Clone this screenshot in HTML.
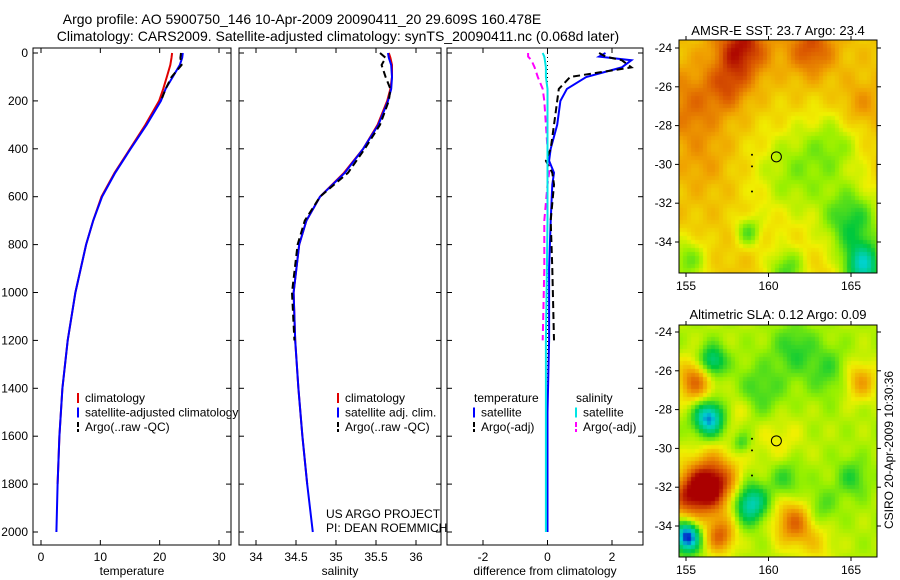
<!DOCTYPE html>
<html><head><meta charset="utf-8">
<style>
html,body{margin:0;padding:0;background:#fff;}
body{width:900px;height:580px;overflow:hidden;position:relative;font-family:"Liberation Sans",sans-serif;}
svg text{font-family:"Liberation Sans",sans-serif;}
canvas{position:absolute;}
</style></head>
<body>
<canvas id="map1" width="198" height="233" style="left:679px;top:40px"></canvas>
<canvas id="map2" width="198" height="232" style="left:679px;top:325px"></canvas>
<svg id="fig" width="900" height="580" style="position:absolute;left:0;top:0">
<text x="302" y="24" font-size="14" text-anchor="middle">Argo profile: AO 5900750_146 10-Apr-2009 20090411_20 29.609S 160.478E</text>
<text x="338" y="41" font-size="14" text-anchor="middle">Climatology: CARS2009. Satellite-adjusted climatology: synTS_20090411.nc (0.068d later)</text>
<text x="778" y="35" font-size="13" text-anchor="middle">AMSR-E SST: 23.7 Argo: 23.4</text>
<text x="778" y="319" font-size="13" text-anchor="middle">Altimetric SLA: 0.12 Argo: 0.09</text>
<text transform="translate(893,450) rotate(-90)" font-size="12" text-anchor="middle">CSIRO 20-Apr-2009 10:30:36</text>
<text x="326" y="518" font-size="12">US ARGO PROJECT</text>
<text x="326" y="532" font-size="12">PI: DEAN ROEMMICH</text>
</svg>
<script>
// ---- data ----
const depthTicks=[0,200,400,600,800,1000,1200,1400,1600,1800,2000];
const profDepth=[0,20,50,100,150,200,300,400,500,600,700,800,1000,1200,1400,1600,1800,2000];
const tempClim=[22.1,22.0,21.8,21.2,20.6,19.9,17.6,15.0,12.4,10.2,8.8,7.6,5.8,4.5,3.6,3.1,2.8,2.6];
const tempSat=[23.9,23.8,23.4,22.2,21.0,20.2,17.8,15.1,12.5,10.3,8.8,7.6,5.8,4.5,3.6,3.1,2.8,2.6];
const tempArgo=[23.6,23.5,23.7,22.0,21.0,20.2,17.7,15.0,12.6,10.3,8.9,7.7,5.9,4.6,3.7,3.1,2.8,2.6];
const salClim=[35.66,35.68,35.70,35.70,35.68,35.64,35.52,35.34,35.10,34.80,34.63,34.54,34.47,34.49,34.53,34.58,34.64,34.70];
const salSat=[35.65,35.66,35.69,35.70,35.69,35.65,35.53,35.34,35.11,34.80,34.63,34.54,34.47,34.49,34.53,34.58,34.64,34.71];
const salArgo=[35.55,35.62,35.57,35.62,35.68,35.66,35.55,35.36,35.15,34.80,34.61,34.52,34.45,34.48,34.52,34.58,34.64,34.70];
const diffDepth=[0,15,30,60,100,150,200,300,400,450,500,550,700,900,1200,1500,2000];
const dTempSat=[1.8,1.6,2.6,2.3,1.2,0.6,0.4,0.3,0.1,0.05,0.2,0.15,0.1,0.05,0.05,0.0,0.0];
const dTempArgo=[1.6,1.8,2.3,2.6,0.7,0.35,0.3,0.2,0.1,-0.05,0.15,0.2,0.1,0.15,0.2,0.05,0.0];
const dSalSat=[-0.15,-0.1,-0.08,-0.05,-0.05,0.0,0.0,0.0,0.0,0.0,0.0,0.0,0.0,-0.02,-0.05,-0.05,-0.05];
const dSalArgo=[-0.6,-0.6,-0.5,-0.4,-0.3,-0.15,-0.1,-0.05,0.0,0.05,0.05,0.0,-0.1,-0.1,-0.15,-0.05,0.0];
const tempTicks=[0,10,20,30];
const salTicks=[34,34.5,35,35.5,36];
const salTickLabels=["34","34.5","35","35.5","36"];
const diffTicks=[-2,0,2];
const lonTicks=[155,160,165];
const latTicks=[-24,-26,-28,-30,-32,-34];

const NS="http://www.w3.org/2000/svg";
const svg=document.getElementById('fig');
function mk(tag,attrs,parent){const e=document.createElementNS(NS,tag);for(const k in attrs)e.setAttribute(k,attrs[k]);(parent||svg).appendChild(e);return e;}
const Y0=53,Y1=532;
function yD(d){return Y0+(d/2000)*(Y1-Y0);}
function lin(d0,d1,p0,p1){return v=>p0+(v-d0)/(d1-d0)*(p1-p0);}

const panels=[
 {name:'temperature',x0:33,x1:231,sx:lin(0,30,41,219),ticks:tempTicks,labels:tempTicks.map(String),ylab:true},
 {name:'salinity',x0:239,x1:441,sx:lin(34,36,256,416),ticks:salTicks,labels:salTickLabels},
 {name:'difference from climatology',x0:447,x1:643,sx:lin(-2,2,483,612),ticks:diffTicks,labels:diffTicks.map(String)}
];
function line(sx,xs,ds,color,dash,nm){
  const pts=xs.map((v,i)=>sx(v).toFixed(1)+','+yD(ds[i]).toFixed(1)).join(' ');
  const p=mk('polyline',{points:pts,fill:'none',stroke:color,'stroke-width':2,'stroke-dasharray':dash||'none'});
  
  
}
panels.forEach((p,pi)=>{
  const g=mk('g',{});
  
  
  mk('rect',{x:p.x0,y:48,width:p.x1-p.x0,height:497,fill:'none',stroke:'#000','stroke-width':1},g);
  depthTicks.forEach(d=>{
    const y=yD(d);
    mk('line',{x1:p.x0,x2:p.x0+5,y1:y,y2:y,stroke:'#000'},g);
    mk('line',{x1:p.x1-5,x2:p.x1,y1:y,y2:y,stroke:'#000'},g);
    if(p.ylab){const t=mk('text',{x:28,y:y+4,'font-size':12,'text-anchor':'end'},g);t.textContent=d;
      }
  });
  p.ticks.forEach((v,i)=>{
    const x=p.sx(v);
    mk('line',{x1:x,x2:x,y1:545,y2:540,stroke:'#000'},g);
    mk('line',{x1:x,x2:x,y1:48,y2:53,stroke:'#000'},g);
    const t=mk('text',{x:x,y:561,'font-size':12,'text-anchor':'middle'},g);t.textContent=p.labels[i];
    
  });
  const xt=mk('text',{x:(p.x0+p.x1)/2,y:575,'font-size':12,'text-anchor':'middle'},g);xt.textContent=p.name;
  
});
// panel 1
let s=panels[0].sx;
line(s,tempClim.slice(0,17),profDepth.slice(0,17),'#e00000',null,'temp-climatology-line');
line(s,tempSat,profDepth,'#0000ff',null,'temp-satellite-line');
line(s,tempArgo.slice(0,6),profDepth.slice(0,6),'#000',"7,4",'temp-argo-line');
// panel 2
s=panels[1].sx;
line(s,salClim.slice(0,17),profDepth.slice(0,17),'#e00000',null,'sal-climatology-line');
line(s,salSat,profDepth,'#0000ff',null,'sal-satellite-line');
line(s,salArgo.slice(0,14),profDepth.slice(0,14),'#000',"7,4",'sal-argo-line');
// panel 3
s=panels[2].sx;
mk('line',{x1:s(0),x2:s(0),y1:53,y2:532,stroke:'#000','stroke-dasharray':'1,3'});
line(s,dSalArgo.slice(0,15),diffDepth.slice(0,15),'#ff00ff',"7,4",'sal-argo-diff-line');
line(s,dTempSat,diffDepth,'#0000ff',null,'temp-satellite-diff-line');
line(s,dTempArgo.slice(0,15),diffDepth.slice(0,15),'#000',"7,4",'temp-argo-diff-line');
line(s,dSalSat,diffDepth,'#00e5e5',null,'sal-satellite-diff-line');

function legend(x,y,items){
  items.forEach((it,i)=>{
    const yy=y+i*14.5;
    if(it[1]){mk('line',{x1:x,x2:x,y1:yy-9,y2:yy+1,stroke:it[1],'stroke-width':2,'stroke-dasharray':it[2]?'5,2':'none'});}
    const t=mk('text',{x:x+(it[1]?7:0),y:yy,'font-size':12});t.textContent=it[0];
    
  });
}
legend(78,402,[['climatology','#e00000'],['satellite-adjusted climatology','#0000ff'],['Argo(..raw -QC)','#000',1]]);
legend(338,402,[['climatology','#e00000'],['satellite adj. clim.','#0000ff'],['Argo(..raw -QC)','#000',1]]);
legend(474,402,[['temperature',null],['satellite','#0000ff'],['Argo(-adj)','#000',1]]);
legend(576,402,[['salinity',null],['satellite','#00e5e5'],['Argo(-adj)','#ff00ff',1]]);

// ---- maps ----
const sstBlobs=[[158.3,-24,0.3,1.6],[157.5,-26,0.15,1.2],[162.5,-24,0.22,1.4],[155.3,-27,0.15,2.0],[156,-30,0.06,1.5],[161.5,-30.5,-0.18,2.6],[164,-29,-0.14,1.8],[165,-33,-0.3,1.8],[165.7,-35.3,-0.45,1.2],[158.7,-33.5,-0.22,0.8],[155,-35,-0.22,1.2],[161,-35.5,-0.25,1.2],[165.5,-27,0.1,1.2]];
const slaBlobs=[[155.5,-26.5,0.32,1.1],[156.5,-25.5,-0.32,0.8],[156.3,-28.4,-0.45,0.9],[156.5,-31.8,0.5,1.5],[155,-32.5,0.3,1.3],[158.8,-32.8,-0.38,1.0],[155,-34.5,-0.55,0.8],[157,-34.5,0.32,0.9],[161.5,-33.8,0.32,1.2],[165.5,-26.5,0.22,1.0],[159.5,-27,-0.12,1.5],[161.5,-24.8,-0.14,1.3],[163.5,-26,-0.12,1.3],[161,-31.5,-0.14,1.0],[165,-31.5,-0.14,1.0],[158.3,-29.7,-0.14,0.5],[158,-28,0.1,0.8],[163,-33,-0.12,1.0],[160.5,-29.5,0.08,1.5],[163,-35,0.1,1.0]];
const cmap=[[0,[0,0,200]],[0.15,[0,210,210]],[0.35,[0,200,60]],[0.5,[150,240,0]],[0.6,[240,240,0]],[0.75,[240,160,0]],[0.88,[220,90,0]],[1,[170,0,0]]];
function col(v){v=Math.max(0,Math.min(1,v));for(let i=1;i<cmap.length;i++){if(v<=cmap[i][0]){const a=cmap[i-1],b=cmap[i],t=(v-a[0])/(b[0]-a[0]);return 'rgb('+a[1].map((c,k)=>Math.round(c+(b[1][k]-c)*t)).join(',')+')';}}return 'rgb(170,0,0)';}
function drawMap(id,base,blobs,latTop,w,h){
  const c=document.getElementById(id).getContext('2d');
  const lon0=154.5,lonPx=16.5,latPx=19.4,cell=4;
  for(let py=0;py<h;py+=cell)for(let px=0;px<w;px+=cell){
    const lon=lon0+(px+2)/lonPx,lat=latTop-(py+2)/latPx;
    let v=base+0.03*Math.sin(lon*3.1)*Math.cos(lat*2.7);
    blobs.forEach(b=>{const d=((lon-b[0])**2+(lat-b[1])**2)/(b[3]*b[3]);v+=b[2]*Math.exp(-d);});
    c.fillStyle=col(v);c.fillRect(px,py,cell,cell);
  }
}
drawMap('map1',0.68,sstBlobs,-23.6,198,233);
drawMap('map2',0.53,slaBlobs,-23.6,198,232);
function mapAxes(top,bot,lat24,nm){
  const g=mk('g',{});
  
  
  mk('rect',{x:679,y:top,width:198,height:bot-top,fill:'none',stroke:'#000'},g);
  const lx=lin(155,165,686,851),ly=lin(-24,-34,lat24,lat24+194);
  lonTicks.forEach(v=>{const x=lx(v);mk('line',{x1:x,x2:x,y1:bot,y2:bot+4,stroke:'#000'},g);mk('line',{x1:x,x2:x,y1:top,y2:top-4,stroke:'#000'},g);
    const t=mk('text',{x:x,y:bot+17,'font-size':12,'text-anchor':'middle'},g);t.textContent=v;
    });
  latTicks.forEach(v=>{const y=ly(v);mk('line',{x1:675,x2:679,y1:y,y2:y,stroke:'#000'},g);mk('line',{x1:877,x2:881,y1:y,y2:y,stroke:'#000'},g);
    const t=mk('text',{x:672,y:y+4,'font-size':12,'text-anchor':'end'},g);t.textContent=v;
    });
  const ac=mk('circle',{cx:lx(160.478),cy:ly(-29.609),r:5,fill:'none',stroke:'#000'},g);
  
  [[159,-29.5],[159,-30.1],[159,-31.4]].forEach(p=>mk('circle',{cx:lx(p[0]),cy:ly(p[1]),r:1,fill:'#000'},g));
}
mapAxes(40,273,48,'sst-map-axes');
mapAxes(325,557,332,'sla-map-axes');
</script>
</body></html>
